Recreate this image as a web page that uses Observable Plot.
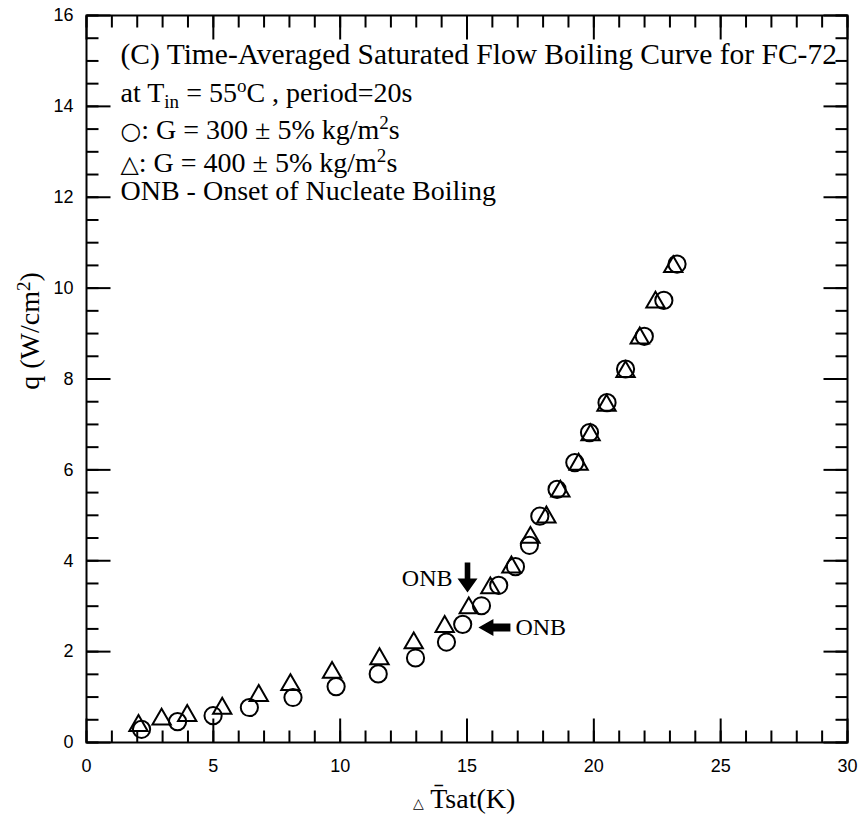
<!DOCTYPE html>
<html>
<head>
<meta charset="utf-8">
<script src="https://cdn.jsdelivr.net/npm/d3@7"></script>
<script src="https://cdn.jsdelivr.net/npm/@observablehq/plot@0.6"></script>
<style>
  html, body { margin: 0; padding: 0; background: #fff; }
  #chart svg { display: block; }
</style>
</head>
<body>
<div id="chart"></div>
<script>
// Wall superheat (K) and heat flux (W/cm^2), G = 300 kg/m^2s (circles)
const dT300 = [2.17, 3.59, 4.99, 6.42, 8.14, 9.84, 11.50, 12.97, 14.19, 14.83, 15.57, 16.25,
               16.91, 17.46, 17.87, 18.55, 19.25, 19.83, 20.52, 21.25, 21.99, 22.76, 23.28];
const q300  = [0.29, 0.46, 0.59, 0.77, 0.99, 1.23, 1.51, 1.86, 2.21, 2.60, 3.01, 3.46,
               3.87, 4.34, 4.98, 5.57, 6.16, 6.82, 7.48, 8.22, 8.94, 9.73, 10.53];

// G = 400 kg/m^2s (triangles)
const dT400 = [2.05, 2.96, 3.97, 5.35, 6.79, 8.04, 9.68, 11.55, 12.90, 14.12, 15.07, 15.92,
               16.75, 17.50, 18.13, 18.68, 19.40, 19.87, 20.50, 21.25, 21.81, 22.43, 23.13];
const q400  = [0.37, 0.51, 0.59, 0.75, 1.03, 1.27, 1.54, 1.84, 2.19, 2.55, 2.96, 3.40,
               3.86, 4.51, 4.96, 5.53, 6.12, 6.77, 7.42, 8.16, 8.90, 9.69, 10.47];

// Onset of nucleate boiling markers (arrow tips)
const onbDown = [{x: 15.02, q: 3.30}];   // G = 400
const onbLeft = [{x: 15.45, q: 2.53}];   // G = 300

// Axis ticks
const xMajor = [0, 5, 10, 15, 20, 25, 30];
const xMinor = d3.range(0, 31, 1);
const yMajor = [0, 2, 4, 6, 8, 10, 12, 14, 16];
const yMinor = d3.range(0, 16.01, 0.5);

// Annotation text (_{..} subscript, ^{..} superscript, #{..} symbol glyph, ~{..} tiny glyph)
const noteLines = [
  "(C) Time-Averaged Saturated Flow Boiling Curve for FC-72",
  "at T_{in} = 55^{o}C , period=20s",
  "#{○}: G = 300 ± 5% kg/m^{2}s",
  "#{△}: G = 400 ± 5% kg/m^{2}s",
  "ONB - Onset of Nucleate Boiling"
];
const xLabel = "~{△} T\u0304sat(K)";
const yLabel = "q (W/cm^{2})";
const onbText = "ONB";

const set300 = dT300.map((x, i) => ({x, q: q300[i]}));
const set400 = dT400.map((x, i) => ({x, q: q400[i]}));

// Frame geometry
const W = 861, H = 814;
const M = {left: 86, right: 14, top: 15, bottom: 72};
const xDomain = [0, 30], yDomain = [0, 16];
// pixel tick lengths expressed in data units, for inward ticks on all four sides
const perPxX = (xDomain[1] - xDomain[0]) / (W - M.left - M.right);
const perPxY = (yDomain[1] - yDomain[0]) / (H - M.top - M.bottom);
const MINOR = 12, MAJOR = 24;

// Tick segments as {x1, y1, x2, y2} records in data units
const tickSegments = [];
for (const [vals, len] of [[xMinor, MINOR], [xMajor, MAJOR]]) {
  for (const v of vals) {
    tickSegments.push({x1: v, y1: yDomain[0], x2: v, y2: yDomain[0] + len * perPxY});
    tickSegments.push({x1: v, y1: yDomain[1], x2: v, y2: yDomain[1] - len * perPxY});
  }
}
for (const [vals, len] of [[yMinor, MINOR], [yMajor, MAJOR]]) {
  for (const v of vals) {
    tickSegments.push({x1: xDomain[0], y1: v, x2: xDomain[0] + len * perPxX, y2: v});
    tickSegments.push({x1: xDomain[1], y1: v, x2: xDomain[1] - len * perPxX, y2: v});
  }
}

// Solid block arrows with the tip at the origin
const arrowDown = {
  draw(ctx) {
    ctx.moveTo(-2.8, -30); ctx.lineTo(2.8, -30); ctx.lineTo(2.8, -14);
    ctx.lineTo(10, -14); ctx.lineTo(0, 0); ctx.lineTo(-10, -14);
    ctx.lineTo(-2.8, -14); ctx.closePath();
  }
};
const arrowLeft = {
  draw(ctx) {
    ctx.moveTo(0, 0); ctx.lineTo(15, -8.5); ctx.lineTo(15, -4);
    ctx.lineTo(32, -4); ctx.lineTo(32, 4); ctx.lineTo(15, 4);
    ctx.lineTo(15, 8.5); ctx.closePath();
  }
};

const serif = "'Liberation Serif', 'Times New Roman', Times, serif";
const noteBaselines = [63, 101, 138, 171, 199];
const noteSizes = [29.5, 28, 28, 28, 28];

const chart = Plot.plot({
  width: W,
  height: H,
  marginLeft: M.left,
  marginRight: M.right,
  marginTop: M.top,
  marginBottom: M.bottom,
  style: {fontFamily: "'Liberation Sans', Arial, sans-serif", fontSize: "18px", color: "black", background: "white"},
  x: {domain: xDomain},
  y: {domain: yDomain},
  marks: [
    Plot.frame({stroke: "black", strokeWidth: 2, fill: "none"}),

    // tick labels only; tick strokes are drawn inward as links
    Plot.axisX({ticks: xMajor, tickSize: 0, tickPadding: 17, label: null, fontSize: 18}),
    Plot.axisY({ticks: yMajor, tickSize: 0, tickPadding: 13, label: null, fontSize: 18}),
    Plot.link(tickSegments, {x1: "x1", y1: "y1", x2: "x2", y2: "y2", stroke: "black", strokeWidth: 2}),

    // data
    Plot.dot(set300, {x: "x", y: "q", r: 8.6, stroke: "black", strokeWidth: 2, fill: "none"}),
    Plot.dot(set400, {x: "x", y: "q", symbol: "triangle", r: 6.8, stroke: "black", strokeWidth: 2, fill: "none"}),

    // ONB arrows and labels
    Plot.dot(onbDown, {x: "x", y: "q", symbol: arrowDown, r: 10, fill: "black", stroke: "none"}),
    Plot.dot(onbLeft, {x: "x", y: "q", symbol: arrowLeft, r: 10, fill: "black", stroke: "none"}),
    Plot.text(onbDown, {x: "x", y: "q", text: () => onbText, textAnchor: "end", dx: -15, dy: -14,
      fontFamily: serif, fontSize: 24, fill: "black"}),
    Plot.text(onbLeft, {x: "x", y: "q", text: () => onbText, textAnchor: "start", dx: 37, dy: 0,
      fontFamily: serif, fontSize: 24, fill: "black"}),

    // annotation block
    ...noteLines.map((line, i) =>
      Plot.text([line], {frameAnchor: "top-left", text: d => d, textAnchor: "start", lineAnchor: "bottom",
        dx: 34, dy: noteBaselines[i] - M.top, fontFamily: serif, fontSize: noteSizes[i], fill: "black"})),

    // axis titles
    Plot.text([xLabel], {frameAnchor: "bottom", text: d => d, textAnchor: "middle", lineAnchor: "bottom",
      dx: -3, dy: 65, fontFamily: serif, fontSize: 28, fill: "black"}),
    Plot.text([yLabel], {frameAnchor: "left", text: d => d, textAnchor: "middle", lineAnchor: "middle",
      rotate: -90, dx: -56, dy: -48, fontFamily: serif, fontSize: 28, fill: "black"})
  ]
});

// Turn the _{ }, ^{ }, #{ }, ~{ } markup into tspans
const SVGNS = "http://www.w3.org/2000/svg";
chart.querySelectorAll("text").forEach(node => {
  const s = node.textContent;
  if (!/[_^#~]\{/.test(s)) return;
  const fs = parseFloat(getComputedStyle(node).fontSize) || 28;
  const re = /([_^#~])\{([^}]*)\}/g;
  const parts = [];
  let last = 0, m;
  while ((m = re.exec(s))) {
    if (m.index > last) parts.push({t: s.slice(last, m.index), k: ""});
    parts.push({t: m[2], k: m[1]});
    last = m.index + m[0].length;
  }
  if (last < s.length) parts.push({t: s.slice(last), k: ""});
  node.textContent = "";
  let shift = 0;
  for (const p of parts) {
    const ts = document.createElementNS(SVGNS, "tspan");
    const target = p.k === "_" ? 0.22 * fs : p.k === "^" ? -0.33 * fs : 0;
    if (target !== shift) ts.setAttribute("dy", target - shift);
    shift = target;
    if (p.k === "_" || p.k === "^") ts.setAttribute("font-size", 0.68 * fs);
    if (p.k === "#") { ts.setAttribute("font-size", 0.85 * fs); ts.setAttribute("font-family", "'DejaVu Sans', sans-serif"); }
    if (p.k === "~") ts.setAttribute("font-size", 0.5 * fs);
    ts.textContent = p.t;
    node.appendChild(ts);
  }
});

document.getElementById("chart").appendChild(chart);
</script>
</body>
</html>
